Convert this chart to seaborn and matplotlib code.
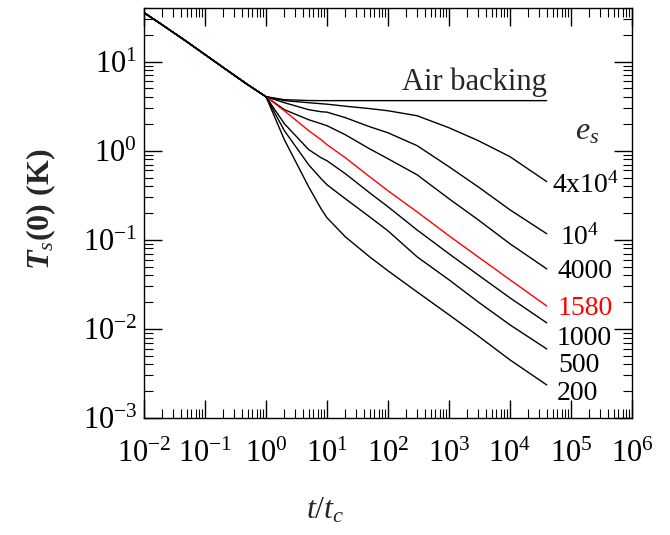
import numpy as np
import pandas as pd
import matplotlib
matplotlib.use("Agg")
import matplotlib.pyplot as plt
import seaborn as sns
from matplotlib.ticker import LogLocator, NullFormatter

# ---- data ----
t_early = [0.01, 0.02, 0.05, 0.1, 0.2, 0.5]
T_early = [35.5, 25.8, 16.8, 12.0, 8.57, 5.52]

t_late = [1, 2, 5, 8, 10, 20, 50, 100, 300, 1000, 3000, 1e4, 4e4]
T_air = [4.04, 3.74, 3.66, 3.65, 3.65, 3.65, 3.65, 3.65, 3.65, 3.65, 3.65, 3.65, 3.65]
T_4e4 = [4.04, 3.65, 3.46, 3.37, 3.33, 3.16, 2.97, 2.81, 2.47, 1.81, 1.30, 0.857, 0.45]
T_1e4 = [4.04, 3.46, 2.89, 2.74, 2.71, 2.35, 1.86, 1.59, 1.14, 0.661, 0.394, 0.217, 0.117]
T_4000 = [4.04, 2.89, 2.23, 2.01, 1.91, 1.51, 1.05, 0.813, 0.537, 0.289, 0.168, 0.0902, 0.0472]
T_1580 = [4.04, 2.81, 1.68, 1.33, 1.17, 0.834, 0.511, 0.355, 0.206, 0.111, 0.0644, 0.0356, 0.0181]
T_1000 = [4.04, 2.01, 1.03, 0.834, 0.772, 0.552, 0.337, 0.235, 0.129, 0.0697, 0.0404, 0.0223, 0.0117]
T_500 = [4.04, 1.68, 0.696, 0.485, 0.415, 0.289, 0.181, 0.126, 0.0644, 0.0356, 0.0201, 0.0111, 0.00596]
T_200 = [4.04, 1.33, 0.394, 0.223, 0.177, 0.108, 0.0644, 0.0449, 0.0260, 0.0144, 0.00834, 0.00449, 0.00235]

series_names = ["air", "4e4", "1e4", "4000", "1580", "1000", "500", "200"]
series_values = [T_air, T_4e4, T_1e4, T_4000, T_1580, T_1000, T_500, T_200]
series_labels = [None, r"4x10$^4$", r"10$^4$", "4000", "1580", "1000", "500", "200"]
series_colors = ["black", "black", "black", "black", "red", "black", "black", "black"]

rows = []
for name, vals in zip(series_names, series_values):
    for t, T in zip(t_early + t_late, T_early + vals):
        rows.append({"t": t, "T": T, "series": name})
df = pd.DataFrame(rows)

# ---- style ----
sns.set_style("ticks")
plt.rcParams["font.family"] = ["Liberation Serif", "DejaVu Serif"]
plt.rcParams["mathtext.fontset"] = "custom"
plt.rcParams["mathtext.rm"] = "Liberation Serif"
plt.rcParams["mathtext.it"] = "Liberation Serif:italic"
plt.rcParams["mathtext.bf"] = "Liberation Serif:italic:bold"

fig = plt.figure(figsize=(6.7, 5.35), dpi=100)
ax = fig.add_axes([144 / 670, 1 - 418 / 535, 488 / 670, 410 / 535])

sns.lineplot(data=df, x="t", y="T", hue="series", hue_order=series_names,
             palette=dict(zip(series_names, series_colors)),
             estimator=None, sort=False, legend=False, linewidth=1.0, ax=ax)

ax.set_xscale("log")
ax.set_yscale("log")
ax.set_xlim(1e-2, 1e6)
ax.set_ylim(1e-3, 40)

ax.xaxis.set_major_locator(LogLocator(base=10, numticks=20))
ax.xaxis.set_minor_locator(LogLocator(base=10, subs=np.arange(2, 10), numticks=200))
ax.yaxis.set_major_locator(LogLocator(base=10, numticks=20))
ax.yaxis.set_minor_locator(LogLocator(base=10, subs=np.arange(2, 10), numticks=200))
ax.xaxis.set_minor_formatter(NullFormatter())
ax.yaxis.set_minor_formatter(NullFormatter())

ax.tick_params(which="both", direction="in", top=True, right=True, colors="black")
ax.tick_params(which="major", length=13, width=1.0, labelsize=22)
ax.tick_params(which="minor", length=6.5, width=0.8)
ax.tick_params(axis="x", which="major", pad=16)
ax.tick_params(axis="y", which="major", pad=5)
for sp in ax.spines.values():
    sp.set_visible(True)
    sp.set_linewidth(1.0)
    sp.set_color("black")

ax.set_xlabel(r"$t/t_c$", fontsize=23)
ax.xaxis.set_label_coords((325 - 144) / 488, -0.19)
ax.set_ylabel(r"$\mathbf{T}_s$(0) (K)", fontsize=23, fontweight="bold")
ax.yaxis.set_label_coords(-0.176, 0.51)

# annotations
ax.text((402 - 144) / 488, (418 - 90) / 410, "Air backing", transform=ax.transAxes,
        fontsize=22, ha="left", va="baseline")
ax.text((575 - 144) / 488, (418 - 140) / 410, r"$e_s$", transform=ax.transAxes,
        fontsize=23, ha="left", va="baseline")

label_x = [None, 552, 560, 557, 558, 557, 558, 557]
label_base = [None, 193, 245, 278, 315, 345, 372, 400]
for lab, lx, ly, col in zip(series_labels, label_x, label_base, series_colors):
    if lab is None:
        continue
    ax.text((lx - 144) / 488, (418 - ly) / 410, lab, transform=ax.transAxes,
            fontsize=20, ha="left", va="baseline", color=col)

fig.savefig("out.png", dpi=100)
